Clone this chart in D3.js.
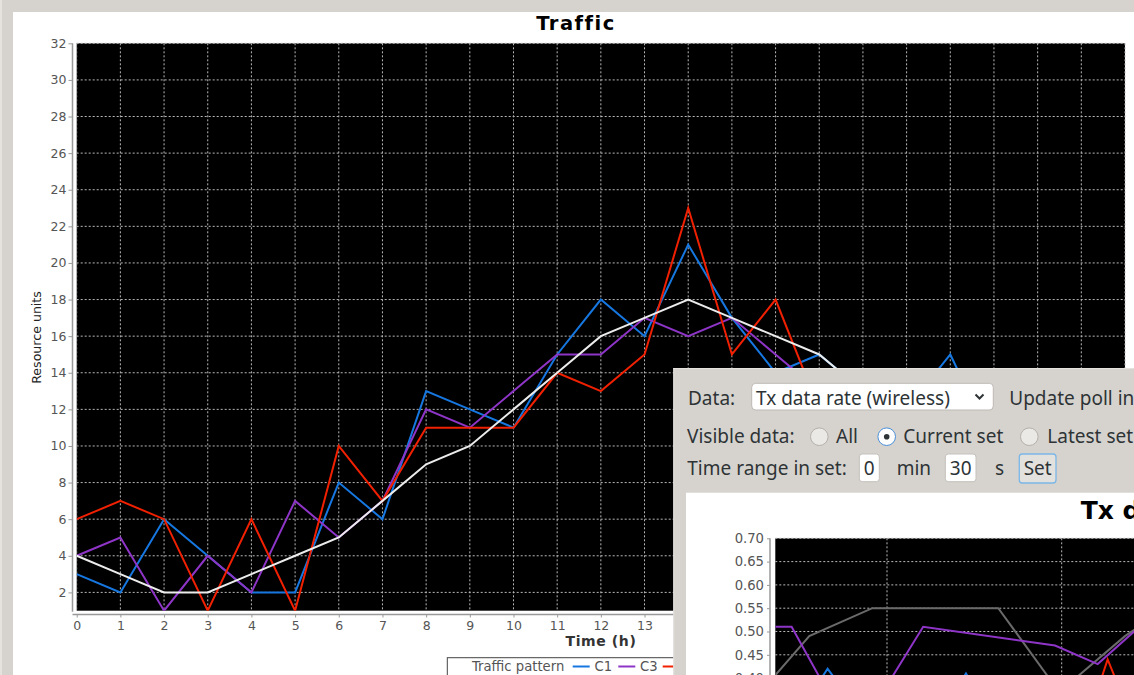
<!DOCTYPE html>
<html><head><meta charset="utf-8">
<script src="https://cdn.jsdelivr.net/npm/d3@7"></script>
<style>body{margin:0;background:#d6d3cf;overflow:hidden}svg{display:block}</style>
</head><body>
<svg id="c" width="1134" height="675"></svg>
<script>
// ---------- main chart data ----------
const hours = [0,1,2,3,4,5,6,7,8,9,10,11,12,13,14,15,16,17,18,19,20,21,22,23];
const trafficPattern = [4,3,2,2,3,4,5,7,9,10,12,14,16,17,18,17,16,15,13,11,9,7,6,5];
const c1 = [3,2,6,4,2,2,8,6,13,12,11,15,18,16,21,17,14,15,13,12,15,10,8,6];
const c3 = [4,5,1,4,2,7,5,7,12,11,13,15,15,17,16,17,15,13,12,10,9,8,6,5];
const c2 = [6,7,6,1,6,1,10,7,11,11,11,14,13,15,23,15,18,12,13,10,8,7,6,5];
const yTicks = [2,4,6,8,10,12,14,16,18,20,22,24,26,28,30,32];
const xTicks = [0,1,2,3,4,5,6,7,8,9,10,11,12,13,14,15,16,17,18,19,20,21,22,23,24];
const seriesNames = ["Traffic pattern","C1","C3","C2"];
const seriesColors = ["#ececec","#1677e0","#8e35c8","#f02000"];

// ---------- inner (Tx data rate) chart data ----------
const innerYTicks = [0.40,0.45,0.50,0.55,0.60,0.65,0.70];
const innerXTicks = [10,20,30];
const txGrayT = [3.0,5.55,9.16,16.37,19.86,23.62,24.6];
const txGrayV = [0.38,0.49,0.55,0.55,0.37,0.49,0.515];
const txPurpleT = [3.6,4.54,7.2,9.0,12.07,19.62,22.06,24.6];
const txPurpleV = [0.51,0.51,0.33,0.324,0.51,0.47,0.43,0.515];
const txBlueT = [5.9,6.6,7.4,10.5,14.2,14.52,14.85,18.0];
const txBlueV = [0.38,0.42,0.38,0.36,0.39,0.41,0.39,0.36];
const txRedT = [20.5,22.1,22.63,23.5,25.0];
const txRedV = [0.35,0.38,0.44,0.36,0.35];

const svg = d3.select("#c");
const FONT = "DejaVu Sans";

// background frame
svg.append("rect").attr("x",0).attr("y",0).attr("width",1134).attr("height",675).attr("fill","#d6d3cf");
svg.append("rect").attr("x",0).attr("y",0).attr("width",2).attr("height",675).attr("fill","#e6e3df");
svg.append("rect").attr("x",13).attr("y",12).attr("width",1121).attr("height",663).attr("fill","#ffffff");

// ---------- main chart ----------
const pL = 76.7, pR = 1125, pT = 43.3, pB = 610.7;
const panelX = 673.3, panelY = 368;
const x = d3.scaleLinear().domain([0,24]).range([pL,pR]);
const y = d3.scaleLinear().domain([1,32]).range([pB,pT]);

svg.append("text").attr("x",576).attr("y",29.5).attr("text-anchor","middle")
  .attr("font-family",FONT).attr("font-weight","bold").attr("font-size",19.5).attr("letter-spacing",1.5)
  .attr("fill","#000").text("Traffic");

svg.append("rect").attr("x",pL).attr("y",pT).attr("width",pR-pL).attr("height",pB-pT).attr("fill","#000");

const grid = svg.append("g").attr("stroke","#b8b8b8").attr("stroke-width",1).attr("stroke-dasharray","2,2");
grid.selectAll("line.h").data(yTicks).join("line").attr("class","h")
  .attr("x1",pL).attr("x2",pR).attr("y1",d=>y(d)).attr("y2",d=>y(d));
grid.selectAll("line.v").data(xTicks).join("line").attr("class","v")
  .attr("y1",pT).attr("y2",pB).attr("x1",d=>x(d)).attr("x2",d=>x(d));

svg.append("clipPath").attr("id","mainClip").append("rect")
  .attr("x",pL).attr("y",pT).attr("width",pR-pL).attr("height",pB-pT);

const mainSeries = [trafficPattern,c1,c3,c2];
const line = d3.line().x((d,i)=>x(hours[i])).y(d=>y(d));
const lg = svg.append("g").attr("clip-path","url(#mainClip)");
[1,2,3,0].forEach(k=>{
  lg.append("path").datum(mainSeries[k]).attr("d",line).attr("fill","none")
    .attr("stroke",seriesColors[k]).attr("stroke-width",2).attr("stroke-linejoin","miter");
});

// axes
const yAxis = svg.append("g").attr("transform","translate(72.5,0)")
  .call(d3.axisLeft(y).tickValues(yTicks).tickSize(4).tickSizeOuter(0).tickPadding(2));
const xAxis = svg.append("g").attr("transform","translate(0,614.5)")
  .call(d3.axisBottom(x).tickValues(xTicks).tickSize(3).tickSizeOuter(0).tickPadding(4));
[yAxis,xAxis].forEach(a=>{
  a.select(".domain").attr("stroke","#999").attr("stroke-width",1.5);
  a.selectAll(".tick line").attr("stroke","#999");
  a.selectAll(".tick text").attr("font-family",FONT).attr("font-size",12.5).attr("fill","#555");
});
yAxis.select(".domain").attr("d",`M0,${pB+1}V${pT}`);
xAxis.select(".domain").attr("d",`M${72.5}, 0H${pR}`);
// labels that sit under the overlapping control panel are not visible
xAxis.selectAll(".tick").filter(d=>x(d) > panelX - 8).select("text").remove();

svg.append("text").attr("transform","translate(41,337.5) rotate(-90)").attr("text-anchor","middle")
  .attr("font-family",FONT).attr("font-size",12.6).attr("fill","#222").text("Resource units");
svg.append("text").attr("x",601).attr("y",645.5).attr("text-anchor","middle")
  .attr("font-family",FONT).attr("font-weight","bold").attr("font-size",14).attr("letter-spacing",0.6)
  .attr("fill","#333").text("Time (h)");

// legend
const leg = svg.append("g");
leg.append("rect").attr("x",447.3).attr("y",657.7).attr("width",300).attr("height",40)
  .attr("fill","#fff").attr("stroke","#444").attr("stroke-width",1);
const legItems = [
  {t:seriesNames[0], tx:472, lx:null},
  {t:seriesNames[1], tx:594.5, lx:572.7},
  {t:seriesNames[2], tx:640, lx:618.3},
  {t:seriesNames[3], tx:685, lx:662.7}
];
legItems.forEach((d,i)=>{
  if(d.lx!==null) leg.append("line").attr("x1",d.lx).attr("x2",d.lx+17).attr("y1",666.5).attr("y2",666.5)
    .attr("stroke",seriesColors[i]).attr("stroke-width",2);
  if(d.tx < panelX) leg.append("text").attr("x",d.tx).attr("y",671).attr("font-family",FONT).attr("font-size",13.2)
    .attr("fill","#555").text(d.t);
});

// ---------- overlay control panel ----------
const P = svg.append("g");
const UI = "Noto Sans";
P.append("rect").attr("x",panelX).attr("y",panelY).attr("width",470).attr("height",320).attr("fill","#d6d3cf");
P.append("line").attr("x1",673.8).attr("x2",673.8).attr("y1",368).attr("y2",675).attr("stroke","#e4e1de");
P.append("line").attr("x1",673.3).attr("x2",1134).attr("y1",368.5).attr("y2",368.5).attr("stroke","#e4e1de");
const uiText = (tx,ty,t,anchor)=>P.append("text").attr("x",tx).attr("y",ty).attr("font-family",UI)
  .attr("font-size",19).attr("fill","#2e3436").attr("text-anchor",anchor||"start").text(t);

uiText(688,405,"Data:");
P.append("rect").attr("x",751.7).attr("y",383.3).attr("width",241.6).attr("height",26.7).attr("rx",4)
  .attr("fill","#fff").attr("stroke","#bdb9b4");
uiText(756,405,"Tx data rate (wireless)");
P.append("path").attr("d","M975.5,394.5L979.5,398.5L983.5,394.5").attr("fill","none").attr("stroke","#2e3436").attr("stroke-width",2);
uiText(1009.3,405,"Update poll interval:");

uiText(687,442.7,"Visible data:");
const radio = (cx,sel)=>{
  P.append("circle").attr("cx",cx).attr("cy",436.7).attr("r",8.8)
    .attr("fill",sel?"#fdfdfd":"#ebe9e6").attr("stroke",sel?"#4a90d9":"#b3afaa").attr("stroke-width",1);
  if(sel) P.append("circle").attr("cx",cx).attr("cy",436.7).attr("r",2.8).attr("fill","#2e3436");
};
radio(819.3,false); uiText(836,442.7,"All");
radio(886.7,true); uiText(903.3,442.7,"Current set");
radio(1029.3,false); uiText(1047.3,442.7,"Latest set");

uiText(687.3,475,"Time range in set:");
P.append("rect").attr("x",859.3).attr("y",454).attr("width",20).attr("height",27.7).attr("rx",3)
  .attr("fill","#fff").attr("stroke","#c4c0bb");
uiText(869.3,475,"0","middle");
uiText(896.7,475,"min");
P.append("rect").attr("x",945.3).attr("y",454).attr("width",30.7).attr("height",27.7).attr("rx",3)
  .attr("fill","#fff").attr("stroke","#c4c0bb");
uiText(960.7,475,"30","middle");
uiText(995,475,"s");
P.append("rect").attr("x",1019.3).attr("y",454).attr("width",36.7).attr("height",29).attr("rx",3)
  .attr("fill","#e3e1de").attr("stroke","#7bb6e6").attr("stroke-width",1.3);
uiText(1037.7,475,"Set","middle");

// ---------- inner chart ----------
P.append("rect").attr("x",686).attr("y",492.7).attr("width",460).attr("height",200).attr("fill","#fff");
P.append("text").attr("x",1080.7).attr("y",519.3).attr("font-family",FONT).attr("font-weight","bold")
  .attr("font-size",25).attr("fill","#000").text("Tx data rate (wireless)");

const iL = 775.3, iT = 538.3;
const ix = d3.scaleLinear().domain([0,10]).range([712.3,887]);
const iy = d3.scaleLinear().domain([0.40,0.70]).range([iT+0.3*466, iT]);
P.append("rect").attr("x",iL).attr("y",iT).attr("width",500).attr("height",300).attr("fill","#000");
const ig = P.append("g").attr("stroke","#b8b8b8").attr("stroke-width",1).attr("stroke-dasharray","2,2");
ig.selectAll("line.h").data(innerYTicks).join("line").attr("class","h")
  .attr("x1",iL).attr("x2",1140).attr("y1",d=>iy(d)).attr("y2",d=>iy(d));
ig.selectAll("line.v").data(innerXTicks).join("line").attr("class","v")
  .attr("y1",iT).attr("y2",700).attr("x1",d=>ix(d)).attr("x2",d=>ix(d));

P.append("clipPath").attr("id","innerClip").append("rect").attr("x",iL).attr("y",iT).attr("width",500).attr("height",300);
const il = P.append("g").attr("clip-path","url(#innerClip)");
const innerSeries = [
  {t:txGrayT, v:txGrayV, c:"#6a6a6a"},
  {t:txBlueT, v:txBlueV, c:"#1677e0"},
  {t:txRedT, v:txRedV, c:"#f02000"},
  {t:txPurpleT, v:txPurpleV, c:"#8e35c8"}
];
innerSeries.forEach(s=>{
  const l = d3.line().x((d,i)=>ix(s.t[i])).y(d=>iy(d));
  il.append("path").datum(s.v).attr("d",l).attr("fill","none").attr("stroke",s.c).attr("stroke-width",2);
});
const iAxis = P.append("g").attr("transform","translate(770,0)")
  .call(d3.axisLeft(iy).tickValues(innerYTicks).tickFormat(d3.format(".2f")).tickSize(3).tickSizeOuter(0).tickPadding(3));
iAxis.select(".domain").attr("stroke","#999").attr("stroke-width",1.5).attr("d",`M0,${iT}V700`);
iAxis.selectAll(".tick line").attr("stroke","#999");
iAxis.selectAll(".tick text").attr("font-family",FONT).attr("font-size",13.2).attr("fill","#555");
</script>
</body></html>
